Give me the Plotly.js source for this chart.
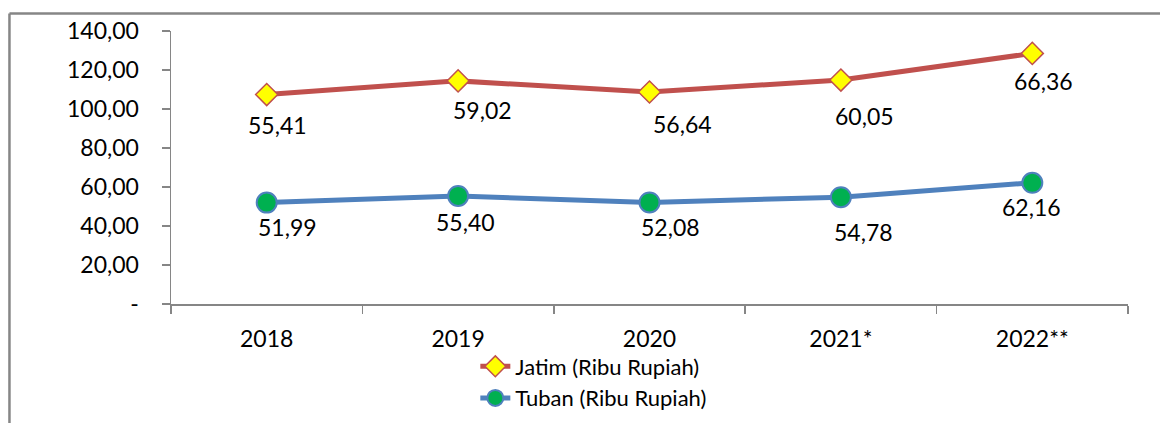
<!DOCTYPE html>
<html>
<head>
<meta charset="utf-8">
<script src="https://cdn.plot.ly/plotly-3.0.1.min.js"></script>
<style>
  html, body { margin: 0; padding: 0; background: #ffffff; }
  #chart { width: 1160px; height: 423px; }
</style>
</head>
<body>
<div id="chart"></div>
<script>
// ---- Data ----
const years = ["2018", "2019", "2020", "2021*", "2022**"];
const tuban = [51.99, 55.40, 52.08, 54.78, 62.16];   // Tuban (Ribu Rupiah)
const jatim = [55.41, 59.02, 56.64, 60.05, 66.36];   // Jatim (Ribu Rupiah), stacked on Tuban
const yTickVals = [0, 20, 40, 60, 80, 100, 120, 140];
const yTickText = ["-", "20,00", "40,00", "60,00", "80,00", "100,00", "120,00", "140,00"];

// ---- Styling: label offsets in pixels (dx right, dy down) ----
const jatimLabelShift = [[11, 30], [24, 29], [33, 32], [24, 36], [11, 28]];
const tubanLabelShift = [[21, 24], [7, 26], [21, 25], [23, 35], [-1, 24]];

const FONT = "Lato, 'Open Sans', sans-serif";
const fmt = v => v.toFixed(2).replace(".", ",");

const traceTuban = {
  x: years, y: tuban, name: "Tuban (Ribu Rupiah)",
  type: "scatter", mode: "lines+markers",
  stackgroup: "one", fill: "none",
  line: { color: "#4F81BD", width: 5 },
  marker: { symbol: "circle", size: 20, color: "#00B050", line: { color: "#4F81BD", width: 2 } },
  hoverinfo: "skip"
};
const traceJatim = {
  x: years, y: jatim, name: "Jatim (Ribu Rupiah)",
  type: "scatter", mode: "lines+markers",
  stackgroup: "one", fill: "none",
  line: { color: "#C0504D", width: 5 },
  marker: { symbol: "diamond", size: 17, color: "#FFFF00", line: { color: "#C0504D", width: 1.5 } },
  hoverinfo: "skip"
};

const annotations = [];
years.forEach((yr, i) => {
  annotations.push({
    x: i, y: tuban[i], xref: "x", yref: "y", text: fmt(tuban[i]),
    showarrow: false, xanchor: "center", yanchor: "middle",
    xshift: tubanLabelShift[i][0], yshift: -tubanLabelShift[i][1],
    font: { family: FONT, size: 23, color: "#000000" }
  });
  annotations.push({
    x: i, y: tuban[i] + jatim[i], xref: "x", yref: "y", text: fmt(jatim[i]),
    showarrow: false, xanchor: "center", yanchor: "middle",
    xshift: jatimLabelShift[i][0], yshift: -jatimLabelShift[i][1],
    font: { family: FONT, size: 23, color: "#000000" }
  });
});

const layout = {
  width: 1160, height: 423,
  margin: { l: 171, r: 32, t: 31, b: 119, pad: 0, autoexpand: false },
  paper_bgcolor: "#ffffff", plot_bgcolor: "#ffffff",
  font: { family: FONT, size: 23, color: "#000000" },
  showlegend: true,
  legend: {
    orientation: "v", x: 0.318, xanchor: "left", y: -0.152, yanchor: "top",
    traceorder: "reversed", font: { family: FONT, size: 22, color: "#000000" },
    bgcolor: "rgba(0,0,0,0)", tracegroupgap: 0, itemwidth: 30
  },
  xaxis: {
    type: "category", range: [-0.5, 4.5],
    showgrid: false, zeroline: false,
    showline: true, linecolor: "#868686", linewidth: 1.5,
    ticks: "outside", tickson: "boundaries", ticklen: 8, tickcolor: "#868686", tickwidth: 1.5,
    ticklabelstandoff: 14,
    tickfont: { family: FONT, size: 23, color: "#000000" },
    fixedrange: true
  },
  yaxis: {
    range: [0, 140], tickmode: "array", tickvals: yTickVals, ticktext: yTickText,
    showgrid: false, zeroline: false,
    showline: true, linecolor: "#868686", linewidth: 1.5,
    ticks: "outside", ticklen: 8, tickcolor: "#868686", tickwidth: 1.5,
    ticklabelstandoff: 18,
    tickfont: { family: FONT, size: 23, color: "#000000" },
    fixedrange: true
  },
  shapes: [
    { type: "line", xref: "paper", yref: "paper", x0: -0.1688, x1: -0.1688, y0: 1.064, y1: -0.5,
      line: { color: "#868686", width: 2.5 } },
    { type: "line", xref: "paper", yref: "paper", x0: -0.1688, x1: 1.1, y0: 1.064, y1: 1.064,
      line: { color: "#868686", width: 2.5 } }
  ],
  annotations: annotations
};

Plotly.newPlot("chart", [traceTuban, traceJatim], layout, { displayModeBar: false, staticPlot: true });
</script>
</body>
</html>
